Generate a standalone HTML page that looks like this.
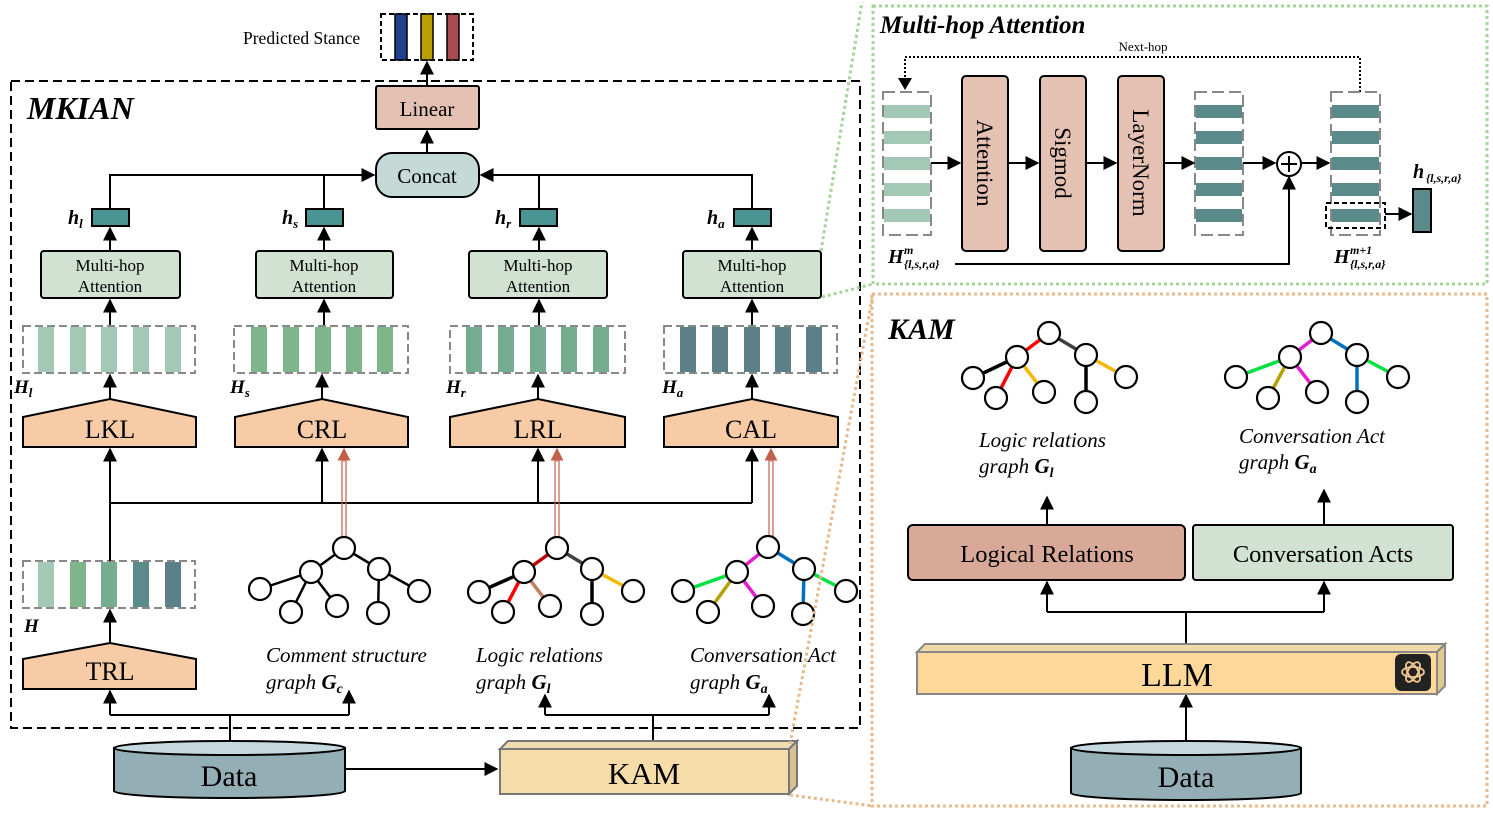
<!DOCTYPE html>
<html><head><meta charset="utf-8"><style>
html,body{margin:0;padding:0;background:#fff}
svg{display:block}
text{font-family:"Liberation Serif",serif;fill:#000}
</style></head><body>
<svg width="1493" height="813" viewBox="0 0 1493 813" xmlns="http://www.w3.org/2000/svg">
<defs>
<marker id="ab" viewBox="0 0 10 10" refX="9" refY="5" markerWidth="14" markerHeight="14" orient="auto" markerUnits="userSpaceOnUse"><path d="M0,0L10,5L0,10z" fill="#000"/></marker>
<marker id="ar" viewBox="0 0 10 10" refX="9" refY="5" markerWidth="13" markerHeight="13" orient="auto" markerUnits="userSpaceOnUse"><path d="M0,0L10,5L0,10z" fill="#c0604a"/></marker>
</defs>

<!-- Predicted stance -->
<text x="243" y="44" font-size="17.5">Predicted Stance</text>
<rect x="381" y="14" width="92" height="46" fill="#fff" stroke="#000" stroke-width="2" stroke-dasharray="5,3"/>
<rect x="395" y="14" width="12" height="46" fill="#233f8f" stroke="#000" stroke-width="1.5"/>
<rect x="421" y="14" width="12" height="46" fill="#b8a000" stroke="#000" stroke-width="1.5"/>
<rect x="447" y="14" width="12" height="46" fill="#a84b50" stroke="#000" stroke-width="1.5"/>
<line x1="427" y1="86" x2="427" y2="62" stroke="#000" stroke-width="2" marker-end="url(#ab)"/>

<!-- MKIAN box -->
<rect x="11" y="81" width="849" height="647" fill="none" stroke="#000" stroke-width="2" stroke-dasharray="9,5"/>
<text x="27" y="119" font-size="32" font-weight="bold" font-style="italic">MKIAN</text>

<rect x="376" y="86" width="103" height="43" fill="#e5c1b4" stroke="#000" stroke-width="2" rx="2"/>
<text x="427" y="116" font-size="21" text-anchor="middle">Linear</text>
<line x1="427" y1="153" x2="427" y2="131" stroke="#000" stroke-width="2" marker-end="url(#ab)"/>
<rect x="376" y="153" width="103" height="44" fill="#c5d9d6" stroke="#000" stroke-width="2" rx="16"/>
<text x="427" y="183" font-size="21" text-anchor="middle">Concat</text>

<g stroke="#000" stroke-width="2" fill="none">
<polyline points="110,209 110,175 374,175" marker-end="url(#ab)"/>
<line x1="324" y1="209" x2="324" y2="175"/>
<polyline points="752,209 752,175 481,175" marker-end="url(#ab)"/>
<line x1="539" y1="209" x2="539" y2="175"/>
</g>
<g fill="#4a9593" stroke="#000" stroke-width="2">
<rect x="92" y="209" width="37" height="17"/><rect x="306" y="209" width="37" height="17"/>
<rect x="520" y="209" width="37" height="17"/><rect x="734" y="209" width="37" height="17"/>
</g>
<g font-size="20" font-weight="bold" font-style="italic">
<text x="68" y="224">h<tspan font-size="13" dy="4">l</tspan></text>
<text x="282" y="224">h<tspan font-size="13" dy="4">s</tspan></text>
<text x="495" y="224">h<tspan font-size="13" dy="4">r</tspan></text>
<text x="707" y="224">h<tspan font-size="13" dy="4">a</tspan></text>
</g>
<g stroke="#000" stroke-width="2">
<line x1="110" y1="251" x2="110" y2="228" marker-end="url(#ab)"/>
<line x1="324" y1="251" x2="324" y2="228" marker-end="url(#ab)"/>
<line x1="539" y1="251" x2="539" y2="228" marker-end="url(#ab)"/>
<line x1="752" y1="251" x2="752" y2="228" marker-end="url(#ab)"/>
<line x1="110" y1="326" x2="110" y2="300" marker-end="url(#ab)"/>
<line x1="324" y1="326" x2="324" y2="300" marker-end="url(#ab)"/>
<line x1="539" y1="326" x2="539" y2="300" marker-end="url(#ab)"/>
<line x1="752" y1="326" x2="752" y2="300" marker-end="url(#ab)"/>
<line x1="110" y1="399" x2="110" y2="375" marker-end="url(#ab)"/>
<line x1="322" y1="399" x2="322" y2="375" marker-end="url(#ab)"/>
<line x1="538" y1="399" x2="538" y2="375" marker-end="url(#ab)"/>
<line x1="752" y1="399" x2="752" y2="375" marker-end="url(#ab)"/>
</g>
<g fill="#d1e1d2" stroke="#000" stroke-width="2">
<rect x="41" y="251" width="139" height="47" rx="3"/><rect x="256" y="251" width="137" height="47" rx="3"/>
<rect x="469" y="251" width="138" height="47" rx="3"/><rect x="683" y="251" width="138" height="47" rx="3"/>
</g>
<g font-size="17" text-anchor="middle">
<text x="110" y="271">Multi-hop</text><text x="110" y="292">Attention</text>
<text x="324" y="271">Multi-hop</text><text x="324" y="292">Attention</text>
<text x="538" y="271">Multi-hop</text><text x="538" y="292">Attention</text>
<text x="752" y="271">Multi-hop</text><text x="752" y="292">Attention</text>
</g>

<!-- bar rows -->
<g fill="none" stroke="#888" stroke-width="2" stroke-dasharray="8,4">
<rect x="23" y="326" width="172" height="47"/><rect x="234" y="326" width="174" height="47"/>
<rect x="450" y="326" width="175" height="47"/><rect x="664" y="326" width="173" height="47"/>
<rect x="23" y="561" width="172" height="47"/>
</g>
<g fill="#a3c8b6"><rect x="38" y="327" width="16" height="45"/><rect x="70" y="327" width="16" height="45"/><rect x="101" y="327" width="16" height="45"/><rect x="133" y="327" width="16" height="45"/><rect x="165" y="327" width="16" height="45"/></g>
<g fill="#7fb58a"><rect x="251" y="327" width="16" height="45"/><rect x="283" y="327" width="16" height="45"/><rect x="315" y="327" width="16" height="45"/><rect x="346" y="327" width="16" height="45"/><rect x="377" y="327" width="16" height="45"/></g>
<g fill="#76ad90"><rect x="466" y="327" width="16" height="45"/><rect x="498" y="327" width="16" height="45"/><rect x="530" y="327" width="16" height="45"/><rect x="561" y="327" width="16" height="45"/><rect x="593" y="327" width="16" height="45"/></g>
<g fill="#5b808a"><rect x="680" y="327" width="16" height="45"/><rect x="712" y="327" width="16" height="45"/><rect x="744" y="327" width="16" height="45"/><rect x="775" y="327" width="16" height="45"/><rect x="806" y="327" width="16" height="45"/></g>
<rect x="38" y="562" width="16" height="45" fill="#a3c8b6"/><rect x="70" y="562" width="16" height="45" fill="#7fb58a"/><rect x="101" y="562" width="16" height="45" fill="#76ad90"/><rect x="133" y="562" width="16" height="45" fill="#5b8a8a"/><rect x="165" y="562" width="16" height="45" fill="#5b808a"/>

<g font-size="19" font-weight="bold" font-style="italic">
<text x="14" y="393">H<tspan font-size="13" dy="4">l</tspan></text>
<text x="230" y="393">H<tspan font-size="13" dy="4">s</tspan></text>
<text x="446" y="393">H<tspan font-size="13" dy="4">r</tspan></text>
<text x="662" y="393">H<tspan font-size="13" dy="4">a</tspan></text>
<text x="24" y="632">H</text>
</g>

<!-- pentagons -->
<g fill="#f7cba6" stroke="#000" stroke-width="2">
<polygon points="23,417 110,399 196,417 196,447 23,447"/>
<polygon points="235,417 322,399 408,417 408,447 235,447"/>
<polygon points="450,417 538,399 625,417 625,447 450,447"/>
<polygon points="664,417 752,399 838,417 838,447 664,447"/>
<polygon points="23,659 110,643 196,659 196,689 23,689"/>
</g>
<g font-size="26" text-anchor="middle">
<text x="110" y="438">LKL</text><text x="322" y="438">CRL</text><text x="538" y="438">LRL</text><text x="751" y="438">CAL</text>
<text x="110" y="680">TRL</text>
</g>

<!-- bus -->
<g stroke="#000" stroke-width="2" fill="none">
<line x1="110" y1="561" x2="110" y2="449" marker-end="url(#ab)"/>
<line x1="110" y1="643" x2="110" y2="610" marker-end="url(#ab)"/>
<line x1="110" y1="503" x2="752" y2="503"/>
<line x1="322" y1="503" x2="322" y2="449" marker-end="url(#ab)"/>
<line x1="538" y1="503" x2="538" y2="449" marker-end="url(#ab)"/>
<line x1="752" y1="503" x2="752" y2="449" marker-end="url(#ab)"/>
</g>
<g stroke="#c0604a" stroke-width="1.2">
<line x1="342" y1="538" x2="342" y2="460"/><line x1="346" y1="538" x2="346" y2="460"/>
<line x1="555" y1="538" x2="555" y2="460"/><line x1="559" y1="538" x2="559" y2="460"/>
<line x1="769" y1="538" x2="769" y2="460"/><line x1="773" y1="538" x2="773" y2="460"/>
<line x1="344" y1="462" x2="344" y2="449" stroke-width="1" marker-end="url(#ar)"/>
<line x1="557" y1="462" x2="557" y2="449" stroke-width="1" marker-end="url(#ar)"/>
<line x1="771" y1="462" x2="771" y2="449" stroke-width="1" marker-end="url(#ar)"/>
</g>

<!-- graphs left -->
<g stroke="#000" stroke-width="2.5">
<line x1="344" y1="548" x2="311" y2="572"/><line x1="344" y1="548" x2="379" y2="569"/>
<line x1="311" y1="572" x2="260" y2="589"/><line x1="311" y1="572" x2="291" y2="612"/><line x1="311" y1="572" x2="337" y2="606"/>
<line x1="379" y1="569" x2="378" y2="613"/><line x1="379" y1="569" x2="419" y2="591"/>
</g>
<g stroke-width="3.5">
<line x1="557" y1="548" x2="524" y2="572" stroke="#c00000"/><line x1="557" y1="548" x2="592" y2="569" stroke="#404040"/>
<line x1="524" y1="572" x2="479" y2="592" stroke="#000"/><line x1="524" y1="572" x2="503" y2="612" stroke="#f00"/><line x1="524" y1="572" x2="550" y2="606" stroke="#c08060"/>
<line x1="592" y1="569" x2="592" y2="614" stroke="#000"/><line x1="592" y1="569" x2="633" y2="591" stroke="#f5b800"/>
<line x1="768" y1="547" x2="737" y2="572" stroke="#e020d0"/><line x1="768" y1="547" x2="804" y2="569" stroke="#0070c0"/>
<line x1="737" y1="572" x2="683" y2="591" stroke="#00e040"/><line x1="737" y1="572" x2="708" y2="612" stroke="#b8a000"/><line x1="737" y1="572" x2="763" y2="606" stroke="#e020d0"/>
<line x1="804" y1="569" x2="803" y2="614" stroke="#0070c0"/><line x1="804" y1="569" x2="846" y2="591" stroke="#00e040"/>
</g>
<g fill="#fff" stroke="#000" stroke-width="2.2">
<ellipse cx="344" cy="548" rx="11" ry="11"/><ellipse cx="311" cy="572" rx="11" ry="11"/><ellipse cx="379" cy="569" rx="11" ry="11"/><ellipse cx="260" cy="589" rx="11" ry="11"/><ellipse cx="291" cy="612" rx="11" ry="11"/><ellipse cx="337" cy="606" rx="11" ry="11"/><ellipse cx="378" cy="613" rx="11" ry="11"/><ellipse cx="419" cy="591" rx="11" ry="11"/>
<ellipse cx="557" cy="548" rx="11" ry="11"/><ellipse cx="524" cy="572" rx="11" ry="11"/><ellipse cx="592" cy="569" rx="11" ry="11"/><ellipse cx="479" cy="592" rx="11" ry="11"/><ellipse cx="503" cy="612" rx="11" ry="11"/><ellipse cx="550" cy="606" rx="11" ry="11"/><ellipse cx="592" cy="614" rx="11" ry="11"/><ellipse cx="633" cy="591" rx="11" ry="11"/>
<ellipse cx="768" cy="547" rx="11" ry="11"/><ellipse cx="737" cy="572" rx="11" ry="11"/><ellipse cx="804" cy="569" rx="11" ry="11"/><ellipse cx="683" cy="591" rx="11" ry="11"/><ellipse cx="708" cy="612" rx="11" ry="11"/><ellipse cx="763" cy="606" rx="11" ry="11"/><ellipse cx="803" cy="614" rx="11" ry="11"/><ellipse cx="846" cy="591" rx="11" ry="11"/>
</g>
<g font-size="21" font-style="italic">
<text x="266" y="662">Comment structure</text><text x="266" y="689">graph <tspan font-weight="bold">G</tspan><tspan font-weight="bold" font-size="14" dy="4">c</tspan></text>
<text x="476" y="662">Logic relations</text><text x="476" y="689">graph <tspan font-weight="bold">G</tspan><tspan font-weight="bold" font-size="14" dy="4">l</tspan></text>
<text x="690" y="662">Conversation Act</text><text x="690" y="689">graph <tspan font-weight="bold">G</tspan><tspan font-weight="bold" font-size="14" dy="4">a</tspan></text>
</g>

<!-- bottom connectors -->
<g stroke="#000" stroke-width="2" fill="none">
<line x1="230" y1="742" x2="230" y2="715"/>
<polyline points="110,715 349,715"/>
<line x1="110" y1="715" x2="110" y2="691" marker-end="url(#ab)"/>
<line x1="349" y1="715" x2="349" y2="691" marker-end="url(#ab)"/>
<line x1="653" y1="742" x2="653" y2="715"/>
<line x1="545" y1="715" x2="769" y2="715"/>
<line x1="545" y1="715" x2="545" y2="695" marker-end="url(#ab)"/>
<line x1="769" y1="715" x2="769" y2="695" marker-end="url(#ab)"/>
<line x1="345" y1="769" x2="497" y2="769" marker-end="url(#ab)"/>
</g>
<!-- Data cylinder left -->
<path d="M114,748 L114,791 A115.5,7 0 0 0 345,791 L345,748 Z" fill="#93aeb5" stroke="#000" stroke-width="2"/>
<ellipse cx="229.5" cy="748" rx="115.5" ry="7" fill="#c5d9de" stroke="#000" stroke-width="2"/>
<text x="229" y="786" font-size="30" text-anchor="middle">Data</text>
<!-- KAM box -->
<polygon points="500,749 508,741 797,741 789,749" fill="#f0dcb0" stroke="#777" stroke-width="2"/>
<polygon points="789,749 797,741 797,786 789,794" fill="#d8c090" stroke="#777" stroke-width="2"/>
<rect x="500" y="749" width="289" height="45" fill="#f5dca8" stroke="#777" stroke-width="2"/>
<text x="644" y="784" font-size="31" text-anchor="middle">KAM</text>

<!-- connector dotted lines -->
<g stroke="#a6d49a" stroke-width="3" stroke-dasharray="3,3" fill="none">
<line x1="821" y1="251" x2="862" y2="2"/>
<line x1="822" y1="297" x2="873" y2="284"/>
<rect x="873" y="6" width="614" height="278"/>
</g>
<g stroke="#e8b98a" stroke-width="3" stroke-dasharray="3,3" fill="none">
<line x1="790" y1="744" x2="873" y2="294"/>
<line x1="790" y1="795" x2="873" y2="806"/>
<rect x="872" y="294" width="615" height="512"/>
</g>

<!-- Multi-hop Attention panel -->
<text x="880" y="33" font-size="25" font-weight="bold" font-style="italic">Multi-hop Attention</text>
<text x="1143" y="51" font-size="13" text-anchor="middle">Next-hop</text>
<polyline points="1360,92 1360,57 905,57 905,88" fill="none" stroke="#000" stroke-width="2" stroke-dasharray="2,2"/>
<path d="M898,78 L912,78 L905,90 Z" fill="#000"/>
<g fill="none" stroke="#888" stroke-width="2" stroke-dasharray="12,5">
<rect x="883" y="92" width="48" height="143"/><rect x="1195" y="92" width="48" height="143"/><rect x="1331" y="92" width="49" height="143"/>
</g>
<g fill="#a3c8b6"><rect x="884" y="105" width="46" height="13"/><rect x="884" y="131" width="46" height="13"/><rect x="884" y="157" width="46" height="13"/><rect x="884" y="183" width="46" height="13"/><rect x="884" y="209" width="46" height="13"/></g>
<g fill="#5b8a8a"><rect x="1196" y="105" width="46" height="13"/><rect x="1196" y="131" width="46" height="13"/><rect x="1196" y="157" width="46" height="13"/><rect x="1196" y="183" width="46" height="13"/><rect x="1196" y="209" width="46" height="13"/>
<rect x="1332" y="105" width="47" height="13"/><rect x="1332" y="131" width="47" height="13"/><rect x="1332" y="157" width="47" height="13"/><rect x="1332" y="183" width="47" height="13"/><rect x="1332" y="209" width="47" height="13"/></g>
<rect x="1326" y="203" width="59" height="25" fill="none" stroke="#000" stroke-width="2" stroke-dasharray="5,3"/>
<rect x="1413" y="189" width="18" height="43" fill="#5b8a8a" stroke="#000" stroke-width="2"/>
<g fill="#e5c1b4" stroke="#000" stroke-width="2">
<rect x="962" y="76" width="46" height="175" rx="4"/><rect x="1040" y="76" width="46" height="175" rx="4"/><rect x="1118" y="76" width="46" height="175" rx="4"/>
</g>
<g font-size="23">
<text transform="translate(977,163) rotate(90)" text-anchor="middle">Attention</text>
<text transform="translate(1055,163) rotate(90)" text-anchor="middle">Sigmod</text>
<text transform="translate(1133,163) rotate(90)" text-anchor="middle">LayerNorm</text>
</g>
<g stroke="#000" stroke-width="2" fill="none">
<line x1="931" y1="163" x2="960" y2="163" marker-end="url(#ab)"/>
<line x1="1008" y1="163" x2="1038" y2="163" marker-end="url(#ab)"/>
<line x1="1086" y1="163" x2="1116" y2="163" marker-end="url(#ab)"/>
<line x1="1164" y1="163" x2="1194" y2="163" marker-end="url(#ab)"/>
<line x1="1243" y1="163" x2="1275" y2="163" marker-end="url(#ab)"/>
<line x1="1301" y1="163" x2="1329" y2="163" marker-end="url(#ab)"/>
<polyline points="955,264 1289,264 1289,177" marker-end="url(#ab)"/>
<line x1="1385" y1="214" x2="1411" y2="214" marker-end="url(#ab)"/>
<circle cx="1289" cy="164" r="12" fill="#fff"/>
<line x1="1289" y1="156" x2="1289" y2="172"/><line x1="1281" y1="164" x2="1297" y2="164"/>
</g>
<g font-weight="bold" font-style="italic">
<text x="888" y="263" font-size="20">H</text><text x="904" y="254" font-size="12">m</text><text x="904" y="268" font-size="12">{l,s,r,a}</text>
<text x="1334" y="263" font-size="20">H</text><text x="1350" y="254" font-size="12">m+1</text><text x="1350" y="268" font-size="12">{l,s,r,a}</text>
<text x="1413" y="178" font-size="20">h</text><text x="1426" y="182" font-size="12">{l,s,r,a}</text>
</g>

<!-- KAM panel -->
<text x="888" y="339" font-size="30" font-weight="bold" font-style="italic">KAM</text>
<g stroke-width="3.5">
<line x1="1049" y1="333" x2="1017" y2="357" stroke="#f00"/><line x1="1049" y1="333" x2="1086" y2="355" stroke="#404040"/>
<line x1="1017" y1="357" x2="973" y2="378" stroke="#000"/><line x1="1017" y1="357" x2="996" y2="398" stroke="#f00"/><line x1="1017" y1="357" x2="1044" y2="392" stroke="#f5b800"/>
<line x1="1086" y1="355" x2="1086" y2="402" stroke="#000"/><line x1="1086" y1="355" x2="1126" y2="377" stroke="#f5b800"/>
<line x1="1321" y1="333" x2="1290" y2="357" stroke="#e020d0"/><line x1="1321" y1="333" x2="1357" y2="355" stroke="#0070c0"/>
<line x1="1290" y1="357" x2="1236" y2="377" stroke="#00e040"/><line x1="1290" y1="357" x2="1268" y2="398" stroke="#b8a000"/><line x1="1290" y1="357" x2="1317" y2="392" stroke="#e020d0"/>
<line x1="1357" y1="355" x2="1357" y2="402" stroke="#0070c0"/><line x1="1357" y1="355" x2="1398" y2="377" stroke="#00e040"/>
</g>
<g fill="#fff" stroke="#000" stroke-width="2.2">
<circle cx="1049" cy="333" r="11"/><circle cx="1017" cy="357" r="11"/><circle cx="1086" cy="355" r="11"/><circle cx="973" cy="378" r="11"/><circle cx="996" cy="398" r="11"/><circle cx="1044" cy="392" r="11"/><circle cx="1086" cy="402" r="11"/><circle cx="1126" cy="377" r="11"/>
<circle cx="1321" cy="333" r="11"/><circle cx="1290" cy="357" r="11"/><circle cx="1357" cy="355" r="11"/><circle cx="1236" cy="377" r="11"/><circle cx="1268" cy="398" r="11"/><circle cx="1317" cy="392" r="11"/><circle cx="1357" cy="402" r="11"/><circle cx="1398" cy="377" r="11"/>
</g>
<g font-size="21" font-style="italic">
<text x="979" y="447">Logic relations</text><text x="979" y="473">graph <tspan font-weight="bold">G</tspan><tspan font-weight="bold" font-size="14" dy="4">l</tspan></text>
<text x="1239" y="443">Conversation Act</text><text x="1239" y="469">graph <tspan font-weight="bold">G</tspan><tspan font-weight="bold" font-size="14" dy="4">a</tspan></text>
</g>
<g stroke="#000" stroke-width="2" fill="none">
<line x1="1047" y1="525" x2="1047" y2="497" marker-end="url(#ab)"/>
<line x1="1324" y1="525" x2="1324" y2="490" marker-end="url(#ab)"/>
<line x1="1186" y1="643" x2="1186" y2="612"/>
<line x1="1047" y1="612" x2="1324" y2="612"/>
<line x1="1047" y1="612" x2="1047" y2="582" marker-end="url(#ab)"/>
<line x1="1324" y1="612" x2="1324" y2="582" marker-end="url(#ab)"/>
<line x1="1186" y1="742" x2="1186" y2="695" marker-end="url(#ab)"/>
</g>
<rect x="908" y="525" width="277" height="55" rx="5" fill="#d8a898" stroke="#000" stroke-width="2"/>
<rect x="1193" y="525" width="260" height="55" rx="3" fill="#d1e1d2" stroke="#000" stroke-width="2"/>
<text x="1047" y="562" font-size="24.5" text-anchor="middle">Logical Relations</text>
<text x="1323" y="562" font-size="24.5" text-anchor="middle">Conversation Acts</text>
<!-- LLM -->
<polygon points="917,652 925,644 1445,644 1437,652" fill="#f0d8a8" stroke="#888" stroke-width="2"/>
<polygon points="1437,652 1445,644 1445,686 1437,694" fill="#e0c890" stroke="#888" stroke-width="2"/>
<rect x="917" y="652" width="520" height="42" fill="#fdd898" stroke="#888" stroke-width="2"/>
<text x="1177" y="686" font-size="34" text-anchor="middle">LLM</text>
<rect x="1395" y="654" width="36" height="37" rx="6" fill="#222"/>
<g fill="none" stroke="#f0c890" stroke-width="1.8">
<ellipse cx="1413" cy="672" rx="11" ry="5"/>
<ellipse cx="1413" cy="672" rx="11" ry="5" transform="rotate(60 1413 672)"/>
<ellipse cx="1413" cy="672" rx="11" ry="5" transform="rotate(120 1413 672)"/>
</g>
<!-- Data right -->
<path d="M1071,748 L1071,793 A115,7 0 0 0 1301,793 L1301,748 Z" fill="#93aeb5" stroke="#000" stroke-width="2"/>
<ellipse cx="1186" cy="748" rx="115" ry="7" fill="#c5d9de" stroke="#000" stroke-width="2"/>
<text x="1186" y="787" font-size="30" text-anchor="middle">Data</text>
</svg>
</body></html>
